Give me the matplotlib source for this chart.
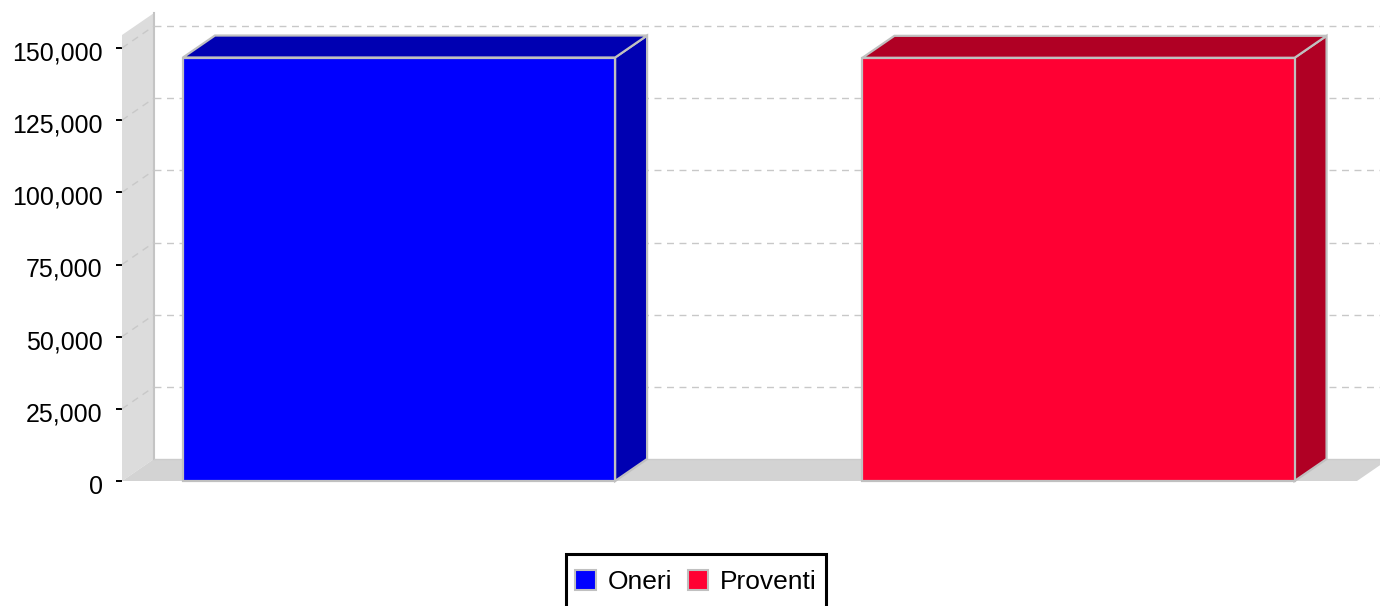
import matplotlib
matplotlib.use("Agg")
import matplotlib.pyplot as plt
from matplotlib.patches import Polygon, Rectangle, Patch
from matplotlib.ticker import FuncFormatter
import matplotlib.transforms as mtrans
import numpy as np

plt.rcParams['font.family'] = ['Liberation Sans', 'DejaVu Sans']

# ---- data ----
series = ["Oneri", "Proventi"]
values = [146700, 146600]
face_colors = ["#0000ff", "#ff0033"]
dark_colors = ["#0000b2", "#b00024"]
y_ticks = [0, 25000, 50000, 75000, 100000, 125000, 150000]

# ---- layout ----
W, H, DPI = 1380, 606, 100
DX, DY = 32, 22  # depth offset in pixels
fig = plt.figure(figsize=(W / DPI, H / DPI), dpi=DPI)
ax = fig.add_axes([122 / W, (H - 481) / H, (1357 - 122) / W, 433 / H])
xmin, xmax = -0.4077, 1.4099
ymax = 150000
wall_top = 154500
bar_w = 0.636
ax.set_xlim(xmin, xmax)
ax.set_ylim(0, ymax)

for s in ax.spines.values():
    s.set_visible(False)
ax.set_xticks([])
ax.set_yticks(y_ticks)
ax.yaxis.set_major_formatter(FuncFormatter(lambda v, p: f"{int(v):,}"))
ax.tick_params(axis='y', length=4.3, width=1.4, color='black', pad=9.5,
               labelsize=18, labelcolor='black')
shift = mtrans.ScaledTranslation(0, -3 / DPI, fig.dpi_scale_trans)
for t in ax.yaxis.get_major_ticks():
    t.label1.set_transform(t.label1.get_transform() + shift)
ax.patch.set_alpha(0)


def back(x, y):
    px = ax.transData.transform((x, y))
    return tuple(ax.transData.inverted().transform(px + np.array([DX, DY])))


def poly(pts, fc, ec='none', lw=0, z=1):
    p = Polygon(pts, closed=True, facecolor=fc, edgecolor=ec, linewidth=lw,
                clip_on=False, zorder=z, joinstyle='miter')
    ax.add_patch(p)


# walls
poly([(xmin, 0), (xmin, wall_top), back(xmin, wall_top), back(xmin, 0)], "#dcdcdc", z=1)
poly([(xmin, 0), (xmax, 0), back(xmax, 0), back(xmin, 0)], "#d3d3d3", z=1)
bx0, by0 = back(xmin, 0)
bxt, byt = back(xmin, wall_top)
ax.plot([bx0, bxt], [by0, byt], color="#c4c4c4", lw=1.5, clip_on=False, zorder=2)
bx1, _ = back(xmax, 0)
ax.plot([bx0, bx1], [by0, by0], color="#cccccc", lw=1.0, clip_on=False, zorder=2)

# gridlines
for v in y_ticks[1:]:
    gx0, gy0 = back(xmin, v)
    gx1, gy1 = back(xmax, v)
    ax.plot([gx0, gx1], [gy0, gy1], color="#c8c8c8", lw=1.0, ls=(0, (5, 4)),
            clip_on=False, zorder=2)
    ax.plot([xmin, gx0], [v, gy0], color="#c8c8c8", lw=1.0, ls=(0, (5, 4)),
            clip_on=False, zorder=2)

# bars
edge = "#c0c0c0"
for i, (v, fc, dc) in enumerate(zip(values, face_colors, dark_colors)):
    l, r = i - bar_w / 2, i + bar_w / 2
    poly([(r, 0), (r, v), back(r, v), back(r, 0)], dc, edge, 1.6, z=3)
    poly([(l, v), (r, v), back(r, v), back(l, v)], dc, edge, 1.6, z=3)
    ax.add_patch(Rectangle((l, 0), bar_w, v, facecolor=fc, edgecolor=edge,
                           linewidth=1.6, clip_on=False, zorder=4))

# legend box (extends below the picture, as in the original)
fig.patches.append(Rectangle((566 / W, -20 / H), (826 - 566) / W, (H - 554 + 20) / H,
                             transform=fig.transFigure, facecolor='white',
                             edgecolor='black', linewidth=2.2, zorder=5))
handles = [Patch(facecolor=c, edgecolor=edge, linewidth=1.5) for c in face_colors]
leg = fig.legend(handles, series, loc='center',
                 bbox_to_anchor=(696 / W, (H - 582) / H), ncol=2, fontsize=19,
                 frameon=False,
                 handlelength=0.78, handleheight=0.78, handletextpad=0.45,
                 columnspacing=0.6, borderpad=0.3, borderaxespad=0)
leg.set_zorder(6)

fig.savefig("out.png", dpi=DPI)
